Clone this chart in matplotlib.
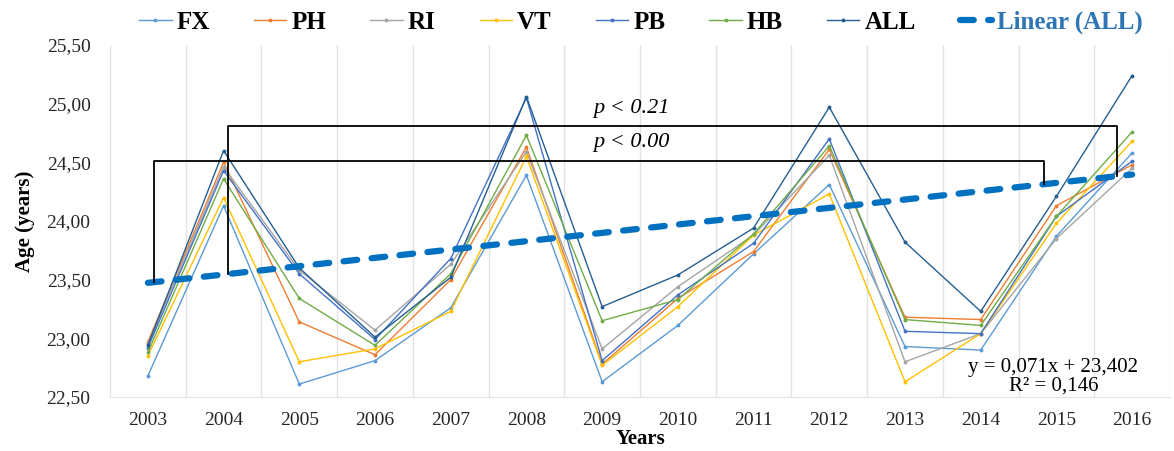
import matplotlib.pyplot as plt
import numpy as np
from matplotlib.ticker import FixedLocator, FixedFormatter


years = [2003, 2004, 2005, 2006, 2007, 2008, 2009, 2010, 2011, 2012, 2013, 2014, 2015, 2016]

fx = [22.68, 24.13, 22.61, 22.81, 23.26, 24.39, 22.63, 23.11, 23.72, 24.31, 22.93, 22.90, 23.87, 24.58]
ph = [22.97, 24.50, 23.14, 22.86, 23.50, 24.63, 22.78, 23.34, 23.74, 24.61, 23.18, 23.16, 24.13, 24.48]
ri = [22.95, 24.46, 23.58, 23.07, 23.63, 24.59, 22.91, 23.44, 23.88, 24.56, 22.80, 23.04, 23.85, 24.45]
vt = [22.85, 24.20, 22.80, 22.91, 23.23, 24.55, 22.77, 23.27, 23.88, 24.23, 22.63, 23.04, 23.98, 24.68]
pb = [22.92, 24.43, 23.55, 22.99, 23.68, 25.05, 22.81, 23.37, 23.81, 24.70, 23.06, 23.04, 24.04, 24.51]
hb = [22.88, 24.36, 23.34, 22.94, 23.55, 24.73, 23.15, 23.33, 23.89, 24.64, 23.16, 23.11, 24.04, 24.76]
all_ = [22.94, 24.60, 23.60, 23.01, 23.52, 25.06, 23.27, 23.54, 23.94, 24.97, 23.82, 23.23, 24.21, 25.24]

series_names = ["FX", "PH", "RI", "VT", "PB", "HB", "ALL"]
series_colors = ["#5B9BD5", "#ED7D31", "#A5A5A5", "#FFC000", "#4472C4", "#70AD47", "#255E91"]

# linear trendline of ALL, as printed on the chart
trend_slope = 0.071
trend_intercept = 23.402
trend_r2 = 0.146

# significance brackets: (left x, right x, top level, label)
brackets = [
    (0.085, 11.83, 24.51, "p < 0.00"),
    (1.06, 12.80, 24.81, "p < 0.21"),
]
label_levels = {"p < 0.00": 24.665, "p < 0.21": 24.96}

y_ticks = [22.5, 23.0, 23.5, 24.0, 24.5, 25.0, 25.5]

serif = "Liberation Serif"


def trend(xi):
    # excel numbers the categories from 1
    return trend_slope * (np.asarray(xi) + 1) + trend_intercept


def fmt(v, nd):
    return f"{v:.{nd}f}".replace(".", ",")


fig = plt.figure(figsize=(11.74, 4.51), dpi=100)
ax = fig.add_axes([110 / 1174, 1 - 397 / 451, 1060 / 1174, 352 / 451])

x = np.arange(len(years))
data = [fx, ph, ri, vt, pb, hb, all_]
handles = []
for name, vals, col in zip(series_names, data, series_colors):
    h, = ax.plot(x, vals, color=col, lw=1.0, marker="o", ms=1.8,
                 label=name, zorder=3)
    handles.append(h)

tx = np.array([x[0], x[-1]])
th, = ax.plot(tx, trend(tx), color="#0070C0", lw=4.5, dashes=(2.2, 2.3),
              dash_capstyle="round", solid_capstyle="round",
              label="Linear (ALL)", zorder=4)
handles.append(th)

for x0, x1, top, txt in brackets:
    ax.plot([x0, x0, x1, x1], [trend(x0), top, top, trend(x1)],
            color="black", lw=1.3, zorder=5)
    ax.text(6.39, label_levels[txt], txt, ha="center", va="center",
            fontsize=16, style="italic", family=serif, zorder=6)

ax.text(11.96, 22.675,
        f"y = {fmt(trend_slope, 3)}x + {fmt(trend_intercept, 3)}\nR² = {fmt(trend_r2, 3)}",
        ha="center", va="center", fontsize=15, family=serif,
        linespacing=0.95, zorder=6)

ax.set_xlim(-0.5, len(years) - 0.5)
ax.set_ylim(22.5, 25.5)

ax.xaxis.set_major_locator(FixedLocator(x))
ax.xaxis.set_major_formatter(FixedFormatter([str(y) for y in years]))
ax.xaxis.set_minor_locator(FixedLocator(np.arange(-0.5, len(years), 1.0)))
ax.set_yticks(y_ticks)
ax.set_yticklabels([fmt(v, 2) for v in y_ticks])
ax.tick_params(which="both", length=0)
ax.tick_params(axis="x", pad=11)
ax.tick_params(axis="y", pad=14)
for lab in ax.get_xticklabels() + ax.get_yticklabels():
    lab.set_family(serif)
    lab.set_fontsize(14)
    lab.set_color("#262626")

ax.grid(which="minor", axis="x", color="#E3E3E3", lw=1.0)
ax.grid(which="major", visible=False)
for s in ["top", "right", "left"]:
    ax.spines[s].set_visible(False)
ax.spines["bottom"].set_color("#E3E3E3")

ax.set_xlabel("Years", family=serif, fontweight="bold", fontsize=15, labelpad=0)
ax.set_ylabel("Age (years)", family=serif, fontweight="bold", fontsize=15, labelpad=8)

leg = fig.legend(handles=handles, loc="center", bbox_to_anchor=(0.546, 0.95),
                 ncol=8, frameon=False, handlelength=1.3, handletextpad=0.2,
                 columnspacing=1.76, prop={"family": serif, "weight": "bold", "size": 18})
leg.get_texts()[-1].set_color("#2E75B6")

fig.savefig("out.png", dpi=100)
